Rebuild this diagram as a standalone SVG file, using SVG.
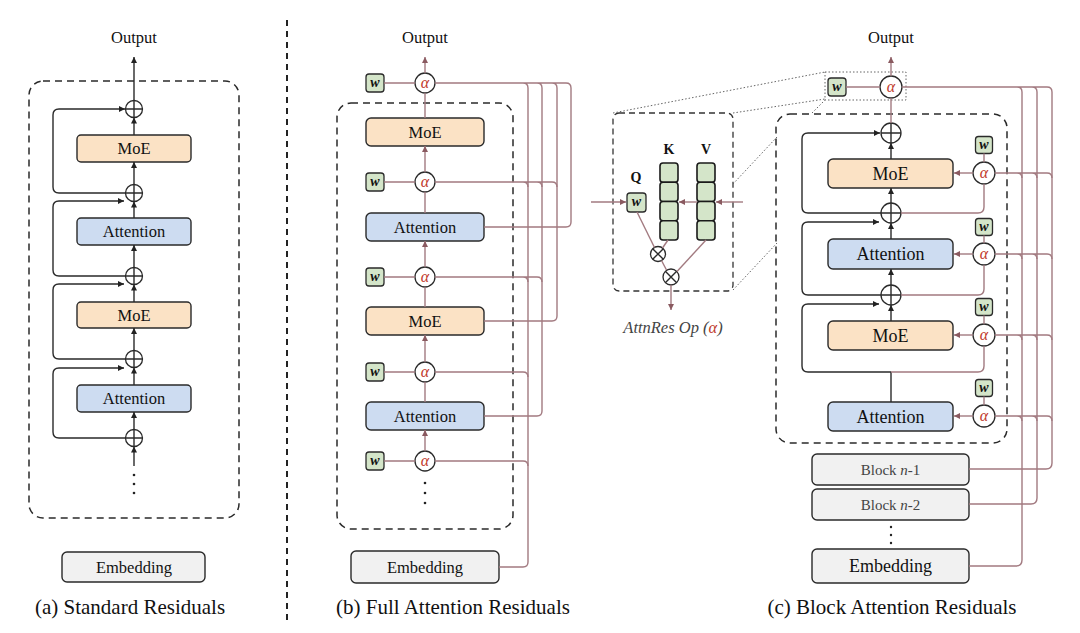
<svg xmlns="http://www.w3.org/2000/svg" width="1080" height="633" viewBox="0 0 1080 633">
<defs>
<marker id="ab" viewBox="0 0 10 10" refX="10" refY="5" markerWidth="7" markerHeight="6" orient="auto" markerUnits="userSpaceOnUse"><path d="M0,0 L10,5 L0,10 z" fill="#222"/></marker>
<marker id="ap" viewBox="0 0 10 10" refX="10" refY="5" markerWidth="7" markerHeight="6" orient="auto" markerUnits="userSpaceOnUse"><path d="M0,0 L10,5 L0,10 z" fill="#8a5a60"/></marker>
</defs>
<style>
text{font-family:"Liberation Serif","Times New Roman",serif;fill:#111;text-anchor:middle;dominant-baseline:central}
.moe{fill:#fbe2c5;stroke:#2a2a2a;stroke-width:1.4}
.att{fill:#cddcf1;stroke:#2a2a2a;stroke-width:1.4}
.emb{fill:#f1f1f1;stroke:#2a2a2a;stroke-width:1.4}
.wbox{fill:#d4e5c9;stroke:#2a2a2a;stroke-width:1.3}
.kv{fill:#d4e5c9;stroke:#1a1a1a;stroke-width:1.6}
.dash{fill:none;stroke:#2a2a2a;stroke-width:1.5;stroke-dasharray:7 5}
.dot{fill:none;stroke:#666;stroke-width:1;stroke-dasharray:1.5 2}
.bk{fill:none;stroke:#2a2a2a;stroke-width:1.4}
.pk{fill:none;stroke:#a27a80;stroke-width:1.4}
.circ{fill:#fff;stroke:#2a2a2a;stroke-width:1.3}
.alpha{fill:#c0392b;font-style:italic;font-size:16px}
.w{font-weight:bold;font-style:italic;font-size:14px}
.lbl{font-size:16.5px}
.lbl2{font-size:18px}
.cap{font-size:21px}
.blk{font-size:15px;fill:#444}
.qkv{font-size:14px;font-weight:bold}
</style>

<!-- ===== Panel (a) ===== -->
<g id="a-frame"><rect class="dash" x="29" y="81" width="210" height="437" rx="14"/></g>
<g id="a-output"><text class="lbl" x="134" y="37">Output</text></g>
<g id="a-moe1"><rect class="moe" x="77" y="135" width="114" height="27" rx="4"/><text class="lbl" x="134" y="148.5">MoE</text></g>
<g id="a-att1"><rect class="att" x="77" y="218" width="114" height="27" rx="4"/><text class="lbl" x="134" y="231.5">Attention</text></g>
<g id="a-moe2"><rect class="moe" x="77" y="302" width="114" height="26" rx="4"/><text class="lbl" x="134" y="315">MoE</text></g>
<g id="a-att2"><rect class="att" x="77" y="385" width="114" height="27" rx="4"/><text class="lbl" x="134" y="398.5">Attention</text></g>
<g id="a-plus1"><circle class="circ" cx="134" cy="109" r="8.5"/><path class="bk" d="M125.5,109H142.5M134,100.5V117.5"/></g>
<g id="a-plus2"><circle class="circ" cx="134" cy="193" r="8.5"/><path class="bk" d="M125.5,193H142.5M134,184.5V201.5"/></g>
<g id="a-plus3"><circle class="circ" cx="134" cy="276" r="8.5"/><path class="bk" d="M125.5,276H142.5M134,267.5V284.5"/></g>
<g id="a-plus4"><circle class="circ" cx="134" cy="359" r="8.5"/><path class="bk" d="M125.5,359H142.5M134,350.5V367.5"/></g>
<g id="a-plus5"><circle class="circ" cx="134" cy="438" r="8.5"/><path class="bk" d="M125.5,438H142.5M134,429.5V446.5"/></g>
<g id="a-dots" fill="#222"><circle cx="134" cy="475" r="1.3"/><circle cx="134" cy="484" r="1.3"/><circle cx="134" cy="493" r="1.3"/></g>
<g id="a-embedding"><rect class="emb" x="62" y="552" width="143" height="30" rx="5"/><text class="lbl" x="134" y="567">Embedding</text></g>
<g id="a-caption"><text class="cap" x="130" y="607">(a) Standard Residuals</text></g>
<g id="a-connectors">
<line class="bk" x1="134" y1="100.5" x2="134" y2="57" marker-end="url(#ab)"/>
<line class="bk" x1="134" y1="135" x2="134" y2="117.5" marker-end="url(#ab)"/>
<line class="bk" x1="134" y1="184.5" x2="134" y2="162" marker-end="url(#ab)"/>
<line class="bk" x1="134" y1="218" x2="134" y2="201.5" marker-end="url(#ab)"/>
<line class="bk" x1="134" y1="267.5" x2="134" y2="245" marker-end="url(#ab)"/>
<line class="bk" x1="134" y1="302" x2="134" y2="284.5" marker-end="url(#ab)"/>
<line class="bk" x1="134" y1="350.5" x2="134" y2="328" marker-end="url(#ab)"/>
<line class="bk" x1="134" y1="385" x2="134" y2="367.5" marker-end="url(#ab)"/>
<line class="bk" x1="134" y1="429.5" x2="134" y2="412" marker-end="url(#ab)"/>
<line class="bk" x1="134" y1="466" x2="134" y2="446.5" marker-end="url(#ab)"/>
<path class="bk" d="M125.5,193H59Q53,193 53,187V115Q53,109 59,109H125" marker-end="url(#ab)"/>
<path class="bk" d="M125.5,276H59Q53,276 53,270V207Q53,201 59,201H124" marker-end="url(#ab)"/>
<path class="bk" d="M125.5,359H59Q53,359 53,353V290Q53,284 59,284H124" marker-end="url(#ab)"/>
<path class="bk" d="M125.5,438H59Q53,438 53,432V374Q53,368 59,368H124" marker-end="url(#ab)"/>
</g>

<!-- divider -->
<g id="divider"><line x1="287" y1="20" x2="287" y2="622" stroke="#222" stroke-width="2" stroke-dasharray="6 5"/></g>

<!-- ===== Panel (b) ===== -->
<g id="b-frame"><rect class="dash" x="337" y="103" width="176" height="426" rx="14"/></g>
<g id="b-output"><text class="lbl" x="425" y="37">Output</text></g>
<g id="b-moe1"><rect class="moe" x="366" y="118" width="118" height="28" rx="5"/><text class="lbl" x="425" y="132">MoE</text></g>
<g id="b-att1"><rect class="att" x="366" y="213" width="118" height="28" rx="5"/><text class="lbl" x="425" y="227">Attention</text></g>
<g id="b-moe2"><rect class="moe" x="366" y="307" width="118" height="28" rx="5"/><text class="lbl" x="425" y="321">MoE</text></g>
<g id="b-att2"><rect class="att" x="366" y="402" width="118" height="28" rx="5"/><text class="lbl" x="425" y="416">Attention</text></g>
<g id="b-embedding"><rect class="emb" x="351" y="551" width="148" height="32" rx="5"/><text class="lbl" x="425" y="567">Embedding</text></g>
<g id="b-w1"><rect class="wbox" x="366" y="74" width="18" height="18" rx="3"/><text class="w" x="375" y="82">w</text></g>
<g id="b-w2"><rect class="wbox" x="366" y="173" width="18" height="18" rx="3"/><text class="w" x="375" y="181">w</text></g>
<g id="b-w3"><rect class="wbox" x="366" y="268" width="18" height="18" rx="3"/><text class="w" x="375" y="276">w</text></g>
<g id="b-w4"><rect class="wbox" x="366" y="363" width="18" height="18" rx="3"/><text class="w" x="375" y="371">w</text></g>
<g id="b-w5"><rect class="wbox" x="366" y="452" width="18" height="18" rx="3"/><text class="w" x="375" y="460">w</text></g>
<g id="b-a1"><circle class="circ" cx="425" cy="83" r="10"/><text class="alpha" x="425" y="82">α</text></g>
<g id="b-a2"><circle class="circ" cx="425" cy="182" r="10"/><text class="alpha" x="425" y="181">α</text></g>
<g id="b-a3"><circle class="circ" cx="425" cy="277" r="10"/><text class="alpha" x="425" y="276">α</text></g>
<g id="b-a4"><circle class="circ" cx="425" cy="372" r="10"/><text class="alpha" x="425" y="371">α</text></g>
<g id="b-a5"><circle class="circ" cx="425" cy="461" r="10"/><text class="alpha" x="425" y="460">α</text></g>
<g id="b-dots" fill="#222"><circle cx="425" cy="483" r="1.3"/><circle cx="425" cy="493" r="1.3"/><circle cx="425" cy="503" r="1.3"/></g>
<g id="b-caption"><text class="cap" x="453" y="607">(b) Full Attention Residuals</text></g>
<g id="b-connectors">
<line class="pk" x1="425" y1="73" x2="425" y2="57" marker-end="url(#ap)"/>
<line class="pk" x1="425" y1="118" x2="425" y2="93"/>
<line class="pk" x1="425" y1="172" x2="425" y2="146" marker-end="url(#ap)"/>
<line class="pk" x1="425" y1="213" x2="425" y2="192"/>
<line class="pk" x1="425" y1="267" x2="425" y2="241" marker-end="url(#ap)"/>
<line class="pk" x1="425" y1="307" x2="425" y2="287"/>
<line class="pk" x1="425" y1="362" x2="425" y2="335" marker-end="url(#ap)"/>
<line class="pk" x1="425" y1="402" x2="425" y2="382"/>
<line class="pk" x1="425" y1="451" x2="425" y2="430" marker-end="url(#ap)"/>
<path class="pk" d="M384,83H415M384,182H415M384,277H415M384,372H415M384,461H415"/>
<path class="pk" d="M435,83H566M523,83Q528,83 528,88M537,83Q542,83 542,88M552,83Q557,83 557,88M566,83Q571,83 571,88"/>
<path class="pk" d="M435,182H552M523,182Q528,182 528,187M537,182Q542,182 542,187M552,182Q557,182 557,187"/>
<path class="pk" d="M435,277H537M523,277Q528,277 528,282M537,277Q542,277 542,282"/>
<path class="pk" d="M435,372H523Q528,372 528,377"/>
<path class="pk" d="M435,461H523Q528,461 528,466"/>
<path class="pk" d="M528,88V562Q528,567 523,567H499"/>
<path class="pk" d="M542,88V411Q542,416 537,416H484"/>
<path class="pk" d="M557,88V316Q557,321 552,321H484"/>
<path class="pk" d="M571,88V222Q571,227 566,227H484"/>
</g>

<!-- ===== Inset AttnRes Op ===== -->
<g id="inset-frame"><rect x="613" y="113" width="120" height="178" rx="6" fill="none" stroke="#333" stroke-width="1.3" stroke-dasharray="6 4"/></g>
<g id="inset-zoomlines">
<line class="dot" x1="613" y1="113" x2="825" y2="72"/>
<line class="dot" x1="733" y1="113" x2="825" y2="99"/>
<line class="dot" x1="733" y1="184" x2="777" y2="137"/>
<line class="dot" x1="733" y1="290" x2="777" y2="243"/>
<line class="dot" x1="812" y1="113" x2="825" y2="100"/>
<rect class="dot" x="825" y="72" width="81" height="28"/>
</g>
<g id="inset-q"><text class="qkv" x="636" y="177">Q</text><rect class="wbox" x="627" y="193" width="19" height="19" rx="3"/><text class="w" x="636.5" y="201.5">w</text></g>
<g id="inset-k"><text class="qkv" x="669" y="149">K</text>
<rect class="kv" x="660" y="163" width="18" height="19.25" rx="3"/><rect class="kv" x="660" y="182.25" width="18" height="19.25" rx="3"/><rect class="kv" x="660" y="201.5" width="18" height="19.25" rx="3"/><rect class="kv" x="660" y="220.75" width="18" height="19.25" rx="3"/></g>
<g id="inset-v"><text class="qkv" x="706" y="149">V</text>
<rect class="kv" x="697" y="163" width="18" height="19.25" rx="3"/><rect class="kv" x="697" y="182.25" width="18" height="19.25" rx="3"/><rect class="kv" x="697" y="201.5" width="18" height="19.25" rx="3"/><rect class="kv" x="697" y="220.75" width="18" height="19.25" rx="3"/></g>
<g id="inset-mul1"><circle class="circ" cx="658" cy="254" r="7.5"/><path class="bk" stroke-width="1" d="M652.7,248.7L663.3,259.3M663.3,248.7L652.7,259.3"/></g>
<g id="inset-mul2"><circle class="circ" cx="671" cy="277" r="8"/><path class="bk" stroke-width="1" d="M665.3,271.3L676.7,282.7M676.7,271.3L665.3,282.7"/></g>
<g id="inset-label"><text x="673" y="327" font-size="16.5" font-style="italic" style="fill:#444">AttnRes Op (<tspan style="fill:#c0392b">α</tspan>)</text></g>
<g id="inset-connectors">
<line class="pk" x1="591" y1="202" x2="626" y2="202" marker-end="url(#ap)"/>
<line class="pk" x1="743" y1="202" x2="716" y2="202" marker-end="url(#ap)"/>
<line class="pk" x1="697" y1="202" x2="679" y2="202" marker-end="url(#ap)"/>
<line class="pk" x1="637" y1="212" x2="654.5" y2="247.5"/>
<line class="pk" x1="668" y1="240" x2="662.5" y2="248"/>
<line class="pk" x1="661.5" y1="260.5" x2="666.5" y2="270"/>
<line class="pk" x1="706" y1="240" x2="677" y2="271.5"/>
<line class="pk" x1="671" y1="285" x2="671" y2="310" marker-end="url(#ap)"/>
</g>

<!-- ===== Panel (c) ===== -->
<g id="c-frame"><rect class="dash" x="776" y="114" width="231" height="329" rx="14"/></g>
<g id="c-output"><text class="lbl" x="891" y="37">Output</text></g>
<g id="c-wtop"><rect class="wbox" x="828" y="78" width="18" height="18" rx="3"/><text class="w" x="837" y="86">w</text></g>
<g id="c-atop"><circle class="circ" cx="891" cy="87" r="11"/><text class="alpha" x="891" y="86">α</text></g>
<g id="c-moe1"><rect class="moe" x="828" y="159" width="125" height="29" rx="5"/><text class="lbl2" x="890.5" y="173.5">MoE</text></g>
<g id="c-att1"><rect class="att" x="828" y="239" width="125" height="30" rx="5"/><text class="lbl2" x="890.5" y="254">Attention</text></g>
<g id="c-moe2"><rect class="moe" x="828" y="321" width="125" height="29" rx="5"/><text class="lbl2" x="890.5" y="335.5">MoE</text></g>
<g id="c-att2"><rect class="att" x="828" y="402" width="125" height="29" rx="5"/><text class="lbl2" x="890.5" y="416.5">Attention</text></g>
<g id="c-plus1"><circle class="circ" cx="891" cy="133" r="10"/><path class="bk" d="M881,133H901M891,123V143"/></g>
<g id="c-plus2"><circle class="circ" cx="891" cy="213" r="10"/><path class="bk" d="M881,213H901M891,203V223"/></g>
<g id="c-plus3"><circle class="circ" cx="891" cy="295" r="10"/><path class="bk" d="M881,295H901M891,285V305"/></g>
<g id="c-w1"><rect class="wbox" x="975.5" y="136.5" width="17" height="17" rx="3"/><text class="w" x="984" y="144">w</text></g>
<g id="c-w2"><rect class="wbox" x="975.5" y="218.5" width="17" height="17" rx="3"/><text class="w" x="984" y="226">w</text></g>
<g id="c-w3"><rect class="wbox" x="975.5" y="298.5" width="17" height="17" rx="3"/><text class="w" x="984" y="306">w</text></g>
<g id="c-w4"><rect class="wbox" x="975.5" y="379.5" width="17" height="17" rx="3"/><text class="w" x="984" y="387">w</text></g>
<g id="c-a1"><circle class="circ" cx="984" cy="173" r="11"/><text class="alpha" x="984" y="172">α</text></g>
<g id="c-a2"><circle class="circ" cx="984" cy="254" r="11"/><text class="alpha" x="984" y="253">α</text></g>
<g id="c-a3"><circle class="circ" cx="984" cy="335" r="11"/><text class="alpha" x="984" y="334">α</text></g>
<g id="c-a4"><circle class="circ" cx="984" cy="416" r="11"/><text class="alpha" x="984" y="415">α</text></g>
<g id="c-block1"><rect class="emb" x="812" y="454" width="157" height="31" rx="5"/><text class="blk" x="890.5" y="469.5">Block <tspan font-style="italic">n</tspan>-1</text></g>
<g id="c-block2"><rect class="emb" x="812" y="489" width="157" height="31" rx="5"/><text class="blk" x="890.5" y="504.5">Block <tspan font-style="italic">n</tspan>-2</text></g>
<g id="c-dots" fill="#222"><circle cx="891" cy="527" r="1.2"/><circle cx="891" cy="535" r="1.2"/><circle cx="891" cy="543" r="1.2"/></g>
<g id="c-embedding"><rect class="emb" x="812" y="549" width="157" height="34" rx="5"/><text class="lbl2" x="890.5" y="566">Embedding</text></g>
<g id="c-caption"><text class="cap" x="892" y="607">(c) Block Attention Residuals</text></g>
<g id="c-connectors">
<line class="pk" x1="891" y1="76" x2="891" y2="57" marker-end="url(#ap)"/>
<line class="pk" x1="846" y1="87" x2="880" y2="87"/>
<line class="pk" x1="891" y1="123" x2="891" y2="98"/>
<line class="bk" x1="891" y1="159" x2="891" y2="143" marker-end="url(#ab)"/>
<line class="bk" x1="891" y1="203" x2="891" y2="188" marker-end="url(#ab)"/>
<line class="bk" x1="891" y1="239" x2="891" y2="223" marker-end="url(#ab)"/>
<line class="bk" x1="891" y1="285" x2="891" y2="269" marker-end="url(#ab)"/>
<line class="bk" x1="891" y1="321" x2="891" y2="305" marker-end="url(#ab)"/>
<line class="bk" x1="891" y1="402" x2="891" y2="372"/>
<path class="bk" d="M881,213H808Q802,213 802,207V139Q802,133 808,133H880" marker-end="url(#ab)"/>
<path class="bk" d="M881,295H808Q802,295 802,289V228Q802,222 808,222H879" marker-end="url(#ab)"/>
<path class="bk" d="M891,372H808Q802,372 802,366V310Q802,304 808,304H879" marker-end="url(#ab)"/>
<path class="pk" d="M984,153.5V162M984,235.5V243M984,315.5V324M984,396.5V405"/>
<line class="pk" x1="973" y1="173" x2="954" y2="173" marker-end="url(#ap)"/>
<line class="pk" x1="973" y1="254" x2="954" y2="254" marker-end="url(#ap)"/>
<line class="pk" x1="973" y1="335" x2="954" y2="335" marker-end="url(#ap)"/>
<line class="pk" x1="973" y1="416" x2="954" y2="416" marker-end="url(#ap)"/>
<path class="pk" d="M984,184V207Q984,213 978,213H901"/>
<path class="pk" d="M984,265V289Q984,295 978,295H901"/>
<path class="pk" d="M984,346V366Q984,372 978,372H891"/>
<path class="pk" d="M902,87H1047M1017,87Q1022,87 1022,92M1032,87Q1037,87 1037,92M1047,87Q1052,87 1052,92"/>
<path class="pk" d="M995,173H1047M1017,173Q1022,173 1022,178M1032,173Q1037,173 1037,178M1047,173Q1052,173 1052,178"/>
<path class="pk" d="M995,254H1047M1017,254Q1022,254 1022,259M1032,254Q1037,254 1037,259M1047,254Q1052,254 1052,259"/>
<path class="pk" d="M995,335H1047M1017,335Q1022,335 1022,340M1032,335Q1037,335 1037,340M1047,335Q1052,335 1052,340"/>
<path class="pk" d="M995,416H1047M1017,416Q1022,416 1022,421M1032,416Q1037,416 1037,421M1047,416Q1052,416 1052,421"/>
<path class="pk" d="M1052,92V463Q1052,469 1046,469H969"/>
<path class="pk" d="M1037,92V498Q1037,504 1031,504H969"/>
<path class="pk" d="M1022,92V560Q1022,566 1016,566H969"/>
</g>
</svg>
